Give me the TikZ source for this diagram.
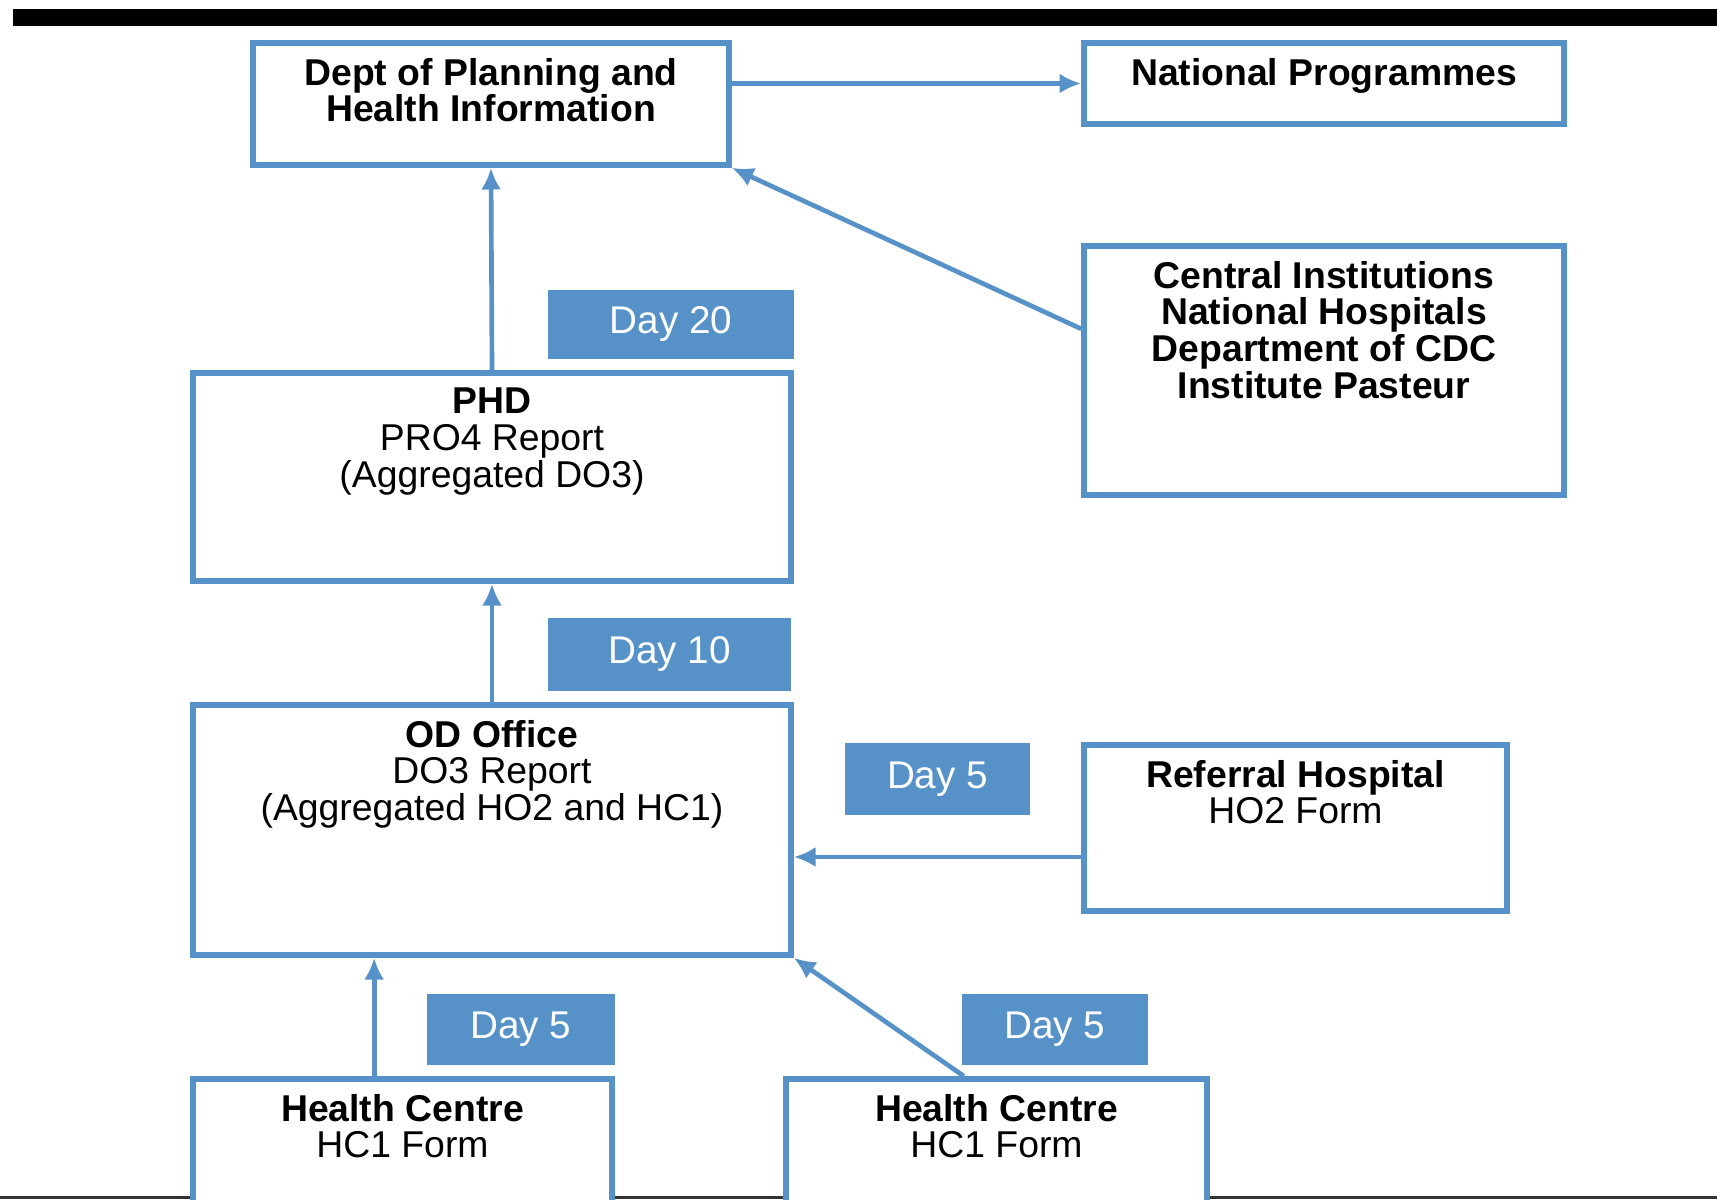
\documentclass[tikz,border=0pt]{standalone}
\usepackage{fontspec}
\setmainfont{Liberation Sans}
\usetikzlibrary{positioning,arrows.meta}

\definecolor{boxblue}{RGB}{86,146,200}

\tikzset{
  unitbox/.style={draw=boxblue, line width=1.7pt, fill=white, inner sep=0pt},
  daybox/.style={fill=boxblue, inner sep=0pt, text=white,
    font=\fontsize{11.6}{12}\selectfont},
  boxtext/.style={inner sep=0pt, align=center,
    font=\fontsize{11.2}{11}\selectfont},
  flow/.style={draw=boxblue, line width=1.4pt, -{Latex[length=6.5pt,width=6pt]}}
}

\begin{document}
\begin{tikzpicture}[x=0.3pt,y=-0.3pt]
        \clip (0,0) rectangle (1717,1199);
        \fill[white] (0,0) rectangle (1717,1199);

        % top bar and bottom rule
        \fill[black] (13,9) rectangle (1717,26);
        \draw[line width=0.9pt, black!80] (0,1197) -- (1717,1197);

        % units
        \node[unitbox, minimum width=142.8pt, minimum height=36.6pt] (dept) at (491,104) {};
        \node[unitbox, minimum width=144pt, minimum height=24.3pt] (natl) at (1324,83.5) {};
        \node[unitbox, minimum width=144pt, minimum height=74.7pt] (central) at (1324,370.5) {};
        \node[unitbox, minimum width=179.4pt, minimum height=62.4pt] (phd) at (492,477) {};
        \node[unitbox, minimum width=179.4pt, minimum height=75pt] (od) at (492,830) {};
        \node[unitbox, minimum width=126.9pt, minimum height=49.8pt] (ref) at (1295.5,828) {};
        \node[unitbox, minimum width=125.7pt, minimum height=60pt] (hcA) at (402.5,1179) {};
        \node[unitbox, minimum width=126.3pt, minimum height=60pt] (hcB) at (996.5,1179) {};

        % unit texts
        \node[boxtext, below=5.2pt of dept.north] (deptT) {\bfseries Dept of Planning and\\\bfseries Health Information};
        \node[boxtext, below=5.2pt of natl.north] (natlT) {\bfseries National Programmes};
        \node[boxtext, below=5.2pt of central.north] (centralT) {\bfseries Central Institutions\\\bfseries National Hospitals\\\bfseries Department of CDC\\\bfseries Institute Pasteur};
        \node[boxtext, below=5.2pt of phd.north] (phdT) {\bfseries PHD\\PRO4 Report\\(Aggregated DO3)};
        \node[boxtext, below=5.2pt of od.north] (odT) {\bfseries OD Office\\DO3 Report\\(Aggregated HO2 and HC1)};
        \node[boxtext, below=5.2pt of ref.north] (refT) {\bfseries Referral Hospital\\HO2 Form};
        \node[boxtext, below=5.2pt of hcA.north] (hcAT) {\bfseries Health Centre\\HC1 Form};
        \node[boxtext, below=5.2pt of hcB.north] (hcBT) {\bfseries Health Centre\\HC1 Form};

        % reporting days
        \node[daybox, minimum width=73.8pt, minimum height=20.7pt] (day20) at (671,324.5) {Day 20};
        \node[daybox, minimum width=72.9pt, minimum height=21.9pt] (day10) at (669.5,654.5) {Day 10};
        \node[daybox, minimum width=55.5pt, minimum height=21.6pt] (dayR) at (937.5,779) {Day 5};
        \node[daybox, minimum width=56.4pt, minimum height=21.3pt] (dayA) at (521,1029.5) {Day 5};
        \node[daybox, minimum width=55.8pt, minimum height=21.3pt] (dayB) at (1055,1029.5) {Day 5};

        % flows
        \draw[flow] (dept.east |- natl.west) -- (natl.west);
        \draw[flow] (phd.north) -- (dept.south);
        \draw[flow] ([yshift=12.5pt]central.west) -- (dept.south east);
        \draw[flow] (od.north) -- (phd.south);
        \coordinate (refout) at ([yshift=-8.7pt]ref.west);
        \draw[flow] (refout) -- (refout -| od.east);
        \coordinate (hcAout) at ([xshift=-8.5pt]hcA.north);
        \draw[flow] (hcAout) -- (hcAout |- od.south);
        \draw[flow] ([xshift=-9.8pt]hcB.north) -- (od.south east);
\end{tikzpicture}
\end{document}
